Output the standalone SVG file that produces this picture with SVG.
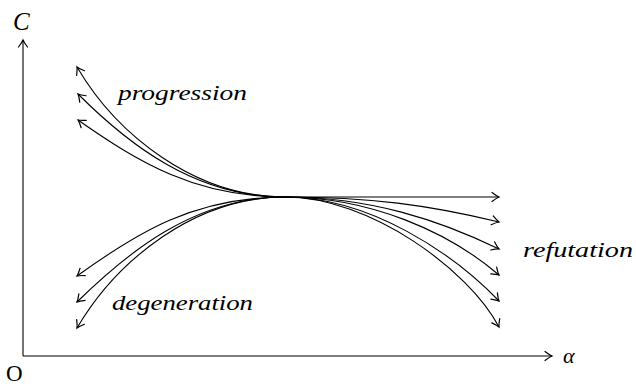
<svg xmlns="http://www.w3.org/2000/svg" width="636" height="387" viewBox="0 0 636 387">
<defs>
<marker id="to" markerUnits="userSpaceOnUse" markerWidth="14" markerHeight="14" refX="0" refY="0" viewBox="-10 -7 14 14" orient="auto" overflow="visible">
<path d="M-7,-4.5 Q-2.5,-1 0,0 Q-2.5,1 -7,4.5" fill="none" stroke="#000" stroke-width="1.2" stroke-linecap="round"/>
</marker>
<style>
.c{fill:none;stroke:#000;stroke-width:1.1;marker-end:url(#to)}
.lbl{font-family:"Liberation Serif","DejaVu Serif","Times New Roman",serif;font-style:italic;font-size:22px;fill:#000}
.rm{font-family:"Liberation Serif","DejaVu Serif","Times New Roman",serif;font-size:23px;fill:#000}
.big{font-size:25px}
</style>
</defs>
<rect width="636" height="387" fill="#fff"/>
<g id="axes">
<path class="c" d="M23,356 L23,40"/>
<path class="c" d="M23,356 L552,356"/>
</g>
<g id="connectors">
<path class="c" d="M285,197 C195,197 117,135 77,67"/>
<path class="c" d="M285,197 C195,197 128,144 78,94"/>
<path class="c" d="M285,197 C195,197 138,162 78,120"/>
<path class="c" d="M285,197 C195,197 138,232 77,276"/>
<path class="c" d="M285,197 C195,197 128,252 77,302"/>
<path class="c" d="M285,197 C195,197 117,260 77,328"/>
<path class="c" d="M285,197 L499,197"/>
<path class="c" d="M285,197 C370,197 429,205 499,222"/>
<path class="c" d="M285,197 C370,197 439,220 499,249"/>
<path class="c" d="M285,197 C370,197 449,232 499,275"/>
<path class="c" d="M285,197 C370,197 454,254 499,301"/>
<path class="c" d="M285,197 C370,197 469,270 499,327"/>
</g>
<g id="labels">
<text class="lbl big" x="13" y="30">C</text>
<text class="rm" x="6" y="381">O</text>
<text class="lbl" x="563" y="363">α</text>
<text class="lbl" x="118" y="100" textLength="129" lengthAdjust="spacingAndGlyphs">progression</text>
<text class="lbl" x="112" y="310" textLength="141" lengthAdjust="spacingAndGlyphs">degeneration</text>
<text class="lbl" x="523" y="257" textLength="110" lengthAdjust="spacingAndGlyphs">refutation</text>
</g>
</svg>
